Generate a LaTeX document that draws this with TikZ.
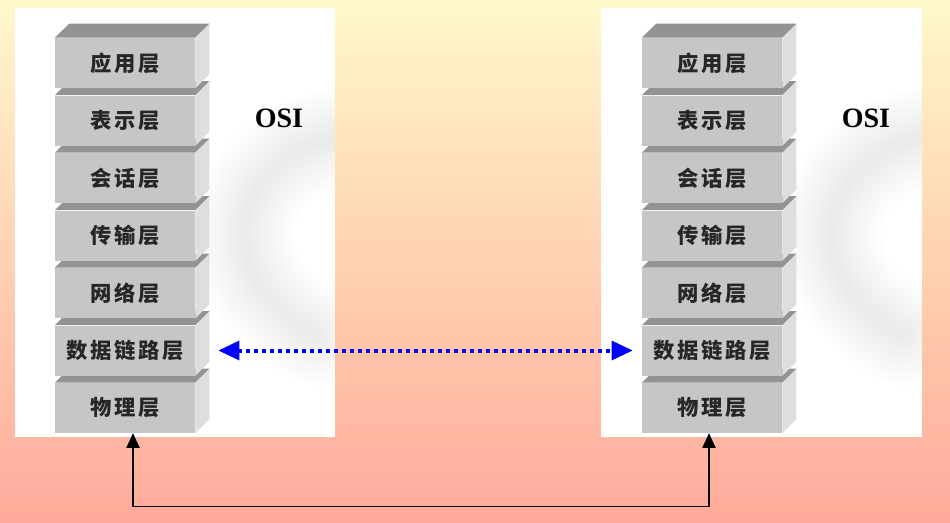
\documentclass[tikz,border=0pt]{standalone}
\usepackage{fontspec}
\setmainfont{Liberation Serif}
\newfontfamily\cjk[LetterSpace=12]{Noto Sans CJK SC}
\usetikzlibrary{arrows.meta}

\definecolor{bgtop}{HTML}{FFF8CC}
\definecolor{bgbottom}{HTML}{FFAA9A}
\definecolor{layerfront}{HTML}{C6C6C6}
\definecolor{layertop}{HTML}{939393}
\definecolor{layerside}{HTML}{DEDEDE}

\tikzset{
  layer/.style={rectangle, fill=layerfront, minimum width=105pt, minimum height=37.5pt,
    inner sep=0pt, text=black!85, font=\cjk\bfseries\fontsize{16}{16}\selectfont},
  topface/.style={fill=layertop},
  sideface/.style={fill=layerside},
  panel/.style={fill=white},
  osi/.style={font=\bfseries\fontsize{21}{21}\selectfont},
  swirl/.style={draw=black, opacity=0.008, line cap=round},
  link/.style={blue, line width=3pt, dash pattern=on 3pt off 3pt,
    {Triangle[length=15.75pt,width=14pt]}-{Triangle[length=15.75pt,width=14pt]}},
  wire/.style={black, line width=1pt,
    {Triangle[length=11pt,width=10pt]}-{Triangle[length=11pt,width=10pt]}},
}

\begin{document}
\begin{tikzpicture}[x=0.75pt, y=-0.75pt]
\useasboundingbox (0,0) rectangle (950,522);
\shade[top color=bgtop, bottom color=bgbottom] (0,0) rectangle (950,522);

% two white panels
\fill[panel] (15,8) rectangle (335,437);
\fill[panel] (601,8) rectangle (922,437);

% faint grey swoosh behind the stacks
\begin{scope}
\clip (15,8) rectangle (335,437);
\foreach \w in {10,20,...,100}
  \draw[swirl, line width=\w*0.75pt] (350,135) .. controls (235,150) and (200,270) .. (315,335);
\end{scope}
\begin{scope}
\clip (601,8) rectangle (922,437);
\foreach \w in {10,20,...,100}
  \draw[swirl, line width=\w*0.75pt] (937,135) .. controls (822,150) and (787,270) .. (902,335);
\end{scope}

% left stack
\foreach \n/\name in {7/物理层,6/数据链路层,5/网络层,4/传输层,3/会话层,2/表示层,1/应用层} {
  \node[layer] (L\n) at (125,{63+57.5*(\n-1)}) {\name};
  \fill[topface] (L\n.north west) -- (L\n.north east) -- ++(14,-14) -- ++(-140,0) -- cycle;
  \fill[sideface] (L\n.north east) -- (L\n.south east) -- ++(14,-14) -- ++(0,-50) -- cycle;
}
% right stack
\foreach \n/\name in {7/物理层,6/数据链路层,5/网络层,4/传输层,3/会话层,2/表示层,1/应用层} {
  \node[layer] (R\n) at (712,{63+57.5*(\n-1)}) {\name};
  \fill[topface] (R\n.north west) -- (R\n.north east) -- ++(14,-14) -- ++(-140,0) -- cycle;
  \fill[sideface] (R\n.north east) -- (R\n.south east) -- ++(14,-14) -- ++(0,-50) -- cycle;
}

\node[osi] (osiL) at (279,118) {OSI};
\node[osi] (osiR) at (866,118) {OSI};

\draw[link, shorten <=17.25pt, shorten >=6.75pt] (L6.east) -- (R6.west);
\draw[wire] ([xshift=6pt]L7.south) -- ++(0,73.5) -| ([xshift=-2.25pt]R7.south);
\end{tikzpicture}
\end{document}
